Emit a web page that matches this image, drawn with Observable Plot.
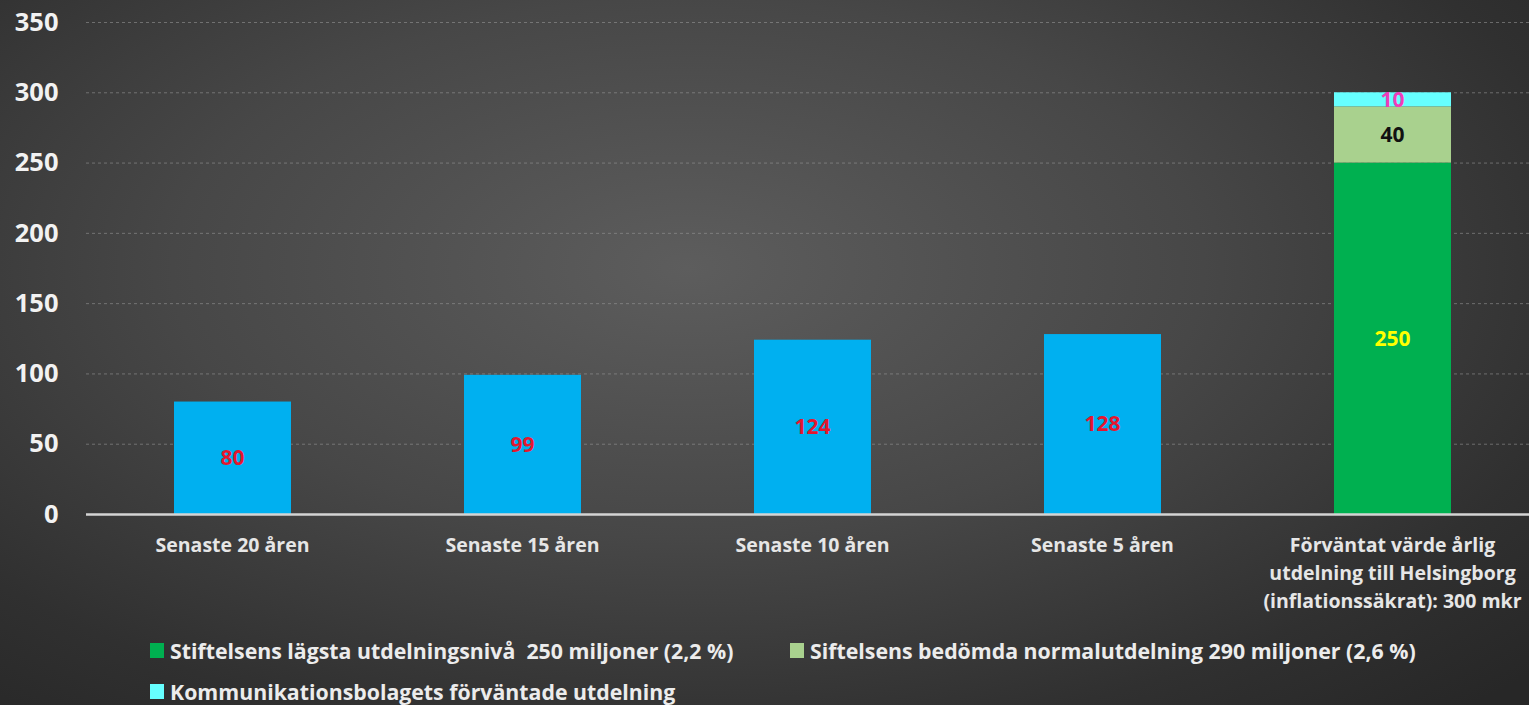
<!DOCTYPE html>
<html>
<head>
<meta charset="utf-8">
<script src="https://cdn.jsdelivr.net/npm/d3@7"></script>
<script src="https://cdn.jsdelivr.net/npm/@observablehq/plot@0.6"></script>
<style>
  html, body { margin: 0; padding: 0; }
  body {
    width: 1529px; height: 705px; overflow: hidden; position: relative;
    background: radial-gradient(ellipse 75% 85% at 45% 38%, #5d5d5d 0%, #474747 45%, #303030 80%, #272727 100%);
    font-family: "Open Sans", Lato, sans-serif;
  }
  #chart svg { display: block; background: transparent; }
  .legend { position: absolute; left: 0; top: 0; width: 1529px; }
  .item { position: absolute; display: flex; align-items: center; font-weight: 700; font-size: 21.3px; color: #ececec; white-space: pre; }
  .sw { width: 14px; height: 15px; margin-right: 6px; }
</style>
</head>
<body>
<div id="chart"></div>
<div class="legend" id="legend"></div>
<script>
// ---- data ----
const categories = [
  "Senaste 20 åren",
  "Senaste 15 åren",
  "Senaste 10 åren",
  "Senaste 5 åren",
  "Förväntat värde årlig\nutdelning till Helsingborg\n(inflationssäkrat): 300 mkr"
];
const historicValues = [80, 99, 124, 128];
const expectedSegments = ["Stiftelsens lägsta utdelningsnivå  250 miljoner (2,2 %)",
                          "Siftelsens bedömda normalutdelning 290 miljoner (2,6 %)",
                          "Kommunikationsbolagets förväntade utdelning"];
const expectedValues = [250, 40, 10];
const yTicks = [0, 50, 100, 150, 200, 250, 300, 350];

const historicColor = "#00B0F0";
const segmentColors = ["#00B050", "#A9D18E", "#66FFFF"];
const historicLabelColor = "#E5162F";
const segmentLabelColors = ["#FFFF00", "#111111", "#F03CB8"];

// ---- table ----
const rows = [];
historicValues.forEach((v, i) => rows.push({cat: categories[i], series: "hist", value: v, fill: historicColor, label: historicLabelColor}));
expectedValues.forEach((v, i) => rows.push({cat: categories[4], series: expectedSegments[i], value: v, fill: segmentColors[i], label: segmentLabelColors[i]}));

const chart = Plot.plot({
  width: 1529,
  height: 620,
  marginLeft: 86,
  marginRight: 0,
  marginTop: 22,
  marginBottom: 106,
  style: {background: "transparent", color: "#eeeeee", fontFamily: "'Open Sans', Lato, sans-serif"},
  x: {domain: categories, range: [86, 1538], padding: 0},
  y: {domain: [0, 350]},
  color: {type: "identity"},
  marks: [
    Plot.gridY(yTicks.filter(t => t > 0), {stroke: "#9a9a9a", strokeOpacity: 0.55, strokeDasharray: "3,3", strokeWidth: 1}),
    Plot.barY(rows, Plot.stackY({x: "cat", y: "value", z: "series", fill: "fill", insetLeft: 87, insetRight: 86})),
    Plot.ruleY([0], {stroke: "#d4d4d4", strokeWidth: 2.5}),
    Plot.text(rows, Plot.stackY({x: "cat", y: "value", z: "series", text: d => String(d.value), fill: "label", fontSize: 21, fontWeight: 700})),
    Plot.axisY({ticks: yTicks, tickSize: 0, tickPadding: 28, fontSize: 25.5, fontWeight: 700, fill: "#f2f2f2", label: null}),
    Plot.axisX({tickSize: 0, tickPadding: 18, fontSize: 19.5, fontWeight: 700, fill: "#e6e6e6", lineHeight: 1.42, label: null})
  ]
});
document.getElementById("chart").appendChild(chart);

// ---- legend ----
const legendPos = [[150, 651], [790, 651], [150, 692]];
const lg = document.getElementById("legend");
expectedSegments.forEach((name, i) => {
  const el = document.createElement("div");
  el.className = "item";
  el.style.left = legendPos[i][0] + "px";
  el.style.top = (legendPos[i][1] - 15) + "px";
  el.innerHTML = `<span class="sw" style="background:${segmentColors[i]}"></span>`;
  el.appendChild(document.createTextNode(name));
  lg.appendChild(el);
});
</script>
</body>
</html>
